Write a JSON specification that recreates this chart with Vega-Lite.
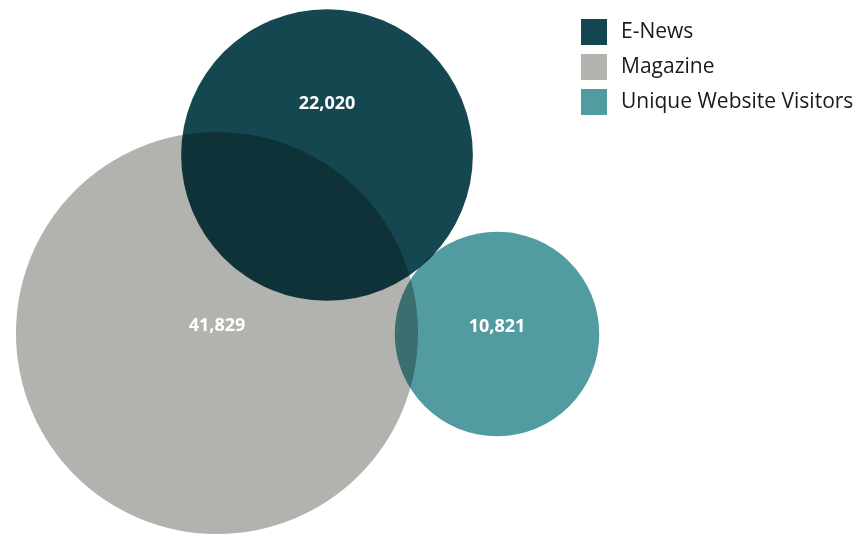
{
  "$schema": "https://vega.github.io/schema/vega-lite/v6.json",
  "width": 860,
  "height": 535,
  "autosize": {"type": "none"},
  "padding": 0,
  "background": "white",
  "config": {"view": {"stroke": null}, "font": "Open Sans"},
  "data": {
    "values": [
      {"set": "Magazine", "count": 41829, "cx": 217, "cy": 333, "ly": 326},
      {"set": "Unique Website Visitors", "count": 10821, "cx": 497, "cy": 334, "ly": 327},
      {"set": "E-News", "count": 22020, "cx": 327, "cy": 155, "ly": 104}
    ]
  },
  "layer": [
    {
      "mark": {"type": "point", "shape": "circle", "filled": true, "opacity": 1, "strokeWidth": 0, "blend": "multiply"},
      "encoding": {
        "x": {"field": "cx", "type": "quantitative", "scale": {"domain": [0, 860]}, "axis": null},
        "y": {"field": "cy", "type": "quantitative", "scale": {"domain": [535, 0]}, "axis": null},
        "size": {"field": "count", "type": "quantitative", "scale": {"type": "linear", "domain": [0, 41829], "range": [0, 161660], "zero": true}, "legend": null},
        "color": {
          "field": "set",
          "type": "nominal",
          "scale": {"domain": ["E-News", "Magazine", "Unique Website Visitors"], "range": ["#154751", "#b2b3af", "#529ca1"]},
          "legend": {
            "orient": "none",
            "legendX": 581,
            "legendY": 19,
            "title": null,
            "padding": 0,
            "symbolType": "square",
            "symbolSize": 676,
            "symbolStrokeWidth": 0,
            "symbolOpacity": 1,
            "labelFont": "Open Sans",
            "labelFontSize": 21,
            "labelColor": "#1a1a1a",
            "labelOffset": 14,
            "rowPadding": 9,
            "labelLimit": 400
          }
        }
      }
    },
    {
      "mark": {"type": "text", "font": "Open Sans", "fontWeight": "bold", "fontSize": 18, "color": "white", "baseline": "middle", "align": "center"},
      "encoding": {
        "x": {"field": "cx", "type": "quantitative", "scale": {"domain": [0, 860]}},
        "y": {"field": "ly", "type": "quantitative", "scale": {"domain": [535, 0]}},
        "text": {"field": "count", "type": "quantitative", "format": ","}
      }
    }
  ]
}
